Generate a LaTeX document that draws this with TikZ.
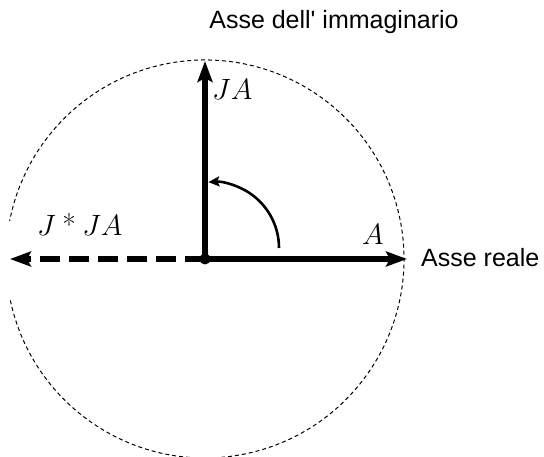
\documentclass[tikz,border=0pt]{standalone}
\usepackage{fontspec}
\newfontfamily\axfont{Liberation Sans}[Ligatures=TeXOff]
\usetikzlibrary{arrows.meta}
\newcommand{\biglab}[1]{\scalebox{1.18}{\Huge$#1$}}
\begin{document}
\begin{tikzpicture}[x=1pt,y=1pt,
  vec/.style={line width=5.5pt,-{Stealth[length=21pt,width=15pt,inset=4pt]}},
  turn/.style={line width=2.6pt,-{Stealth[length=11pt,width=10pt,inset=2pt]}},
  guide/.style={line width=1pt,dash pattern=on 4pt off 3pt},
  axlab/.style={font=\axfont\fontsize{25}{29}\selectfont,inner sep=0pt},
  vlab/.style={inner sep=0pt},
  dot/.style={circle,fill=black,inner sep=0pt,minimum size=11pt}]
\useasboundingbox (0,0) rectangle (544,457);
\node[dot] (O) at (205,198) {};
\coordinate (Atip) at (407,198);
\coordinate (JAtip) at (205,396);
\coordinate (JJtip) at (10,198);
\coordinate (C) at (213,209);
% dashed circle with gap on the left
\draw[guide] (O.center) ++(-168:199) arc[start angle=-168,end angle=169,radius=199];
% vectors
\draw[vec] (O.center) -- (Atip);
\draw[vec] (O.center) -- (JAtip);
\draw[vec,dash pattern=on 20pt off 9pt] (O.center) -- (JJtip);
% rotation arrow
\draw[turn] (C) ++(0:66) arc[start angle=0,end angle=94,radius=66];
% labels
\node[axlab,anchor=base] (ti) at (334,428) {Asse dell' immaginario};
\node[axlab,anchor=base west] (tr) at (421,190) {Asse reale};
\node[vlab,anchor=base west] (la) at (362,212) {\biglab{A}};
\node[vlab,anchor=base west] (lja) at (212,357) {\biglab{JA}};
\node[vlab,anchor=base west] (ljja) at (37,221) {\biglab{J\mathbin{\mbox{*}}JA}};
\end{tikzpicture}
\end{document}
